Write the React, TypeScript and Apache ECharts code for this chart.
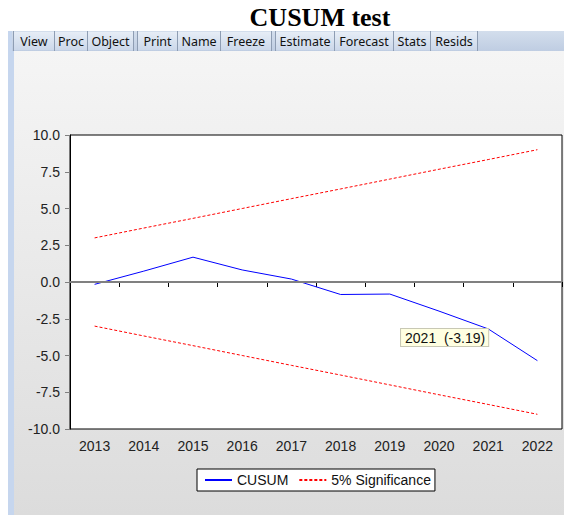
import React, { useEffect, useRef } from "react";
import * as echarts from "echarts";

const categories = ["2013", "2014", "2015", "2016", "2017", "2018", "2019", "2020", "2021", "2022"];
const cusum = [-0.16, 0.74, 1.69, 0.82, 0.2, -0.85, -0.82, -1.98, -3.19, -5.35];
const upperBound = [3.0, 3.67, 4.33, 5.0, 5.67, 6.33, 7.0, 7.67, 8.33, 9.0];
const lowerBound = [-3.0, -3.67, -4.33, -5.0, -5.67, -6.33, -7.0, -7.67, -8.33, -9.0];
const yMin = -10;
const yMax = 10;
const yInterval = 2.5;
const annotationIndex = 8;
const toolbarButtons = ["View", "Proc", "Object", "Print", "Name", "Freeze", "Estimate", "Forecast", "Stats", "Resids"];
const titleText = "CUSUM test";

// layout of the toolbar buttons (pixel extents)
const buttonExtents: [number, number][] = [
  [13, 54], [54, 87], [87, 133],
  [137, 177], [177, 220], [220, 271],
  [275, 334], [334, 393], [393, 430], [430, 477],
];

export default function App() {
  const ref = useRef<HTMLDivElement>(null);
  useEffect(() => {
    if (!ref.current) return;
    const chart = echarts.init(ref.current, undefined, { renderer: "svg" });
    const sans = "'Liberation Sans', Arial, sans-serif";
    const graphics: any[] = [
      { type: "rect", z: -10, silent: true, shape: { x: 0, y: 0, width: 564, height: 515 }, style: { fill: "#ffffff" } },
      {
        type: "rect", z: -9, silent: true, shape: { x: 14, y: 51, width: 550, height: 464 },
        style: { fill: new echarts.graphic.LinearGradient(0, 0, 0, 1, [{ offset: 0, color: "#f5f5f5" }, { offset: 1, color: "#dcdcdc" }]) },
      },
      { type: "rect", z: -9, silent: true, shape: { x: 8, y: 31, width: 6, height: 484 }, style: { fill: "#c6d6ee" } },
      {
        type: "rect", z: -8, silent: true, shape: { x: 12, y: 31, width: 552, height: 20 },
        style: { fill: new echarts.graphic.LinearGradient(0, 0, 0, 1, [{ offset: 0, color: "#d3deec" }, { offset: 1, color: "#bfcde2" }]) },
      },
    ];
    toolbarButtons.forEach((label, i) => {
      const [x0, x1] = buttonExtents[i];
      graphics.push({
        type: "rect", z: -7, silent: true, shape: { x: x0 + 1, y: 32, width: x1 - x0 - 1, height: 18 },
        style: { fill: new echarts.graphic.LinearGradient(0, 0, 0, 1, [{ offset: 0, color: "#e6edf6" }, { offset: 1, color: "#ccd8ea" }]) },
      });
      graphics.push({ type: "line", z: -6, silent: true, shape: { x1: x0 + 0.5, y1: 31, x2: x0 + 0.5, y2: 51 }, style: { stroke: "#8e9db3", lineWidth: 1 } });
      graphics.push({ type: "line", z: -6, silent: true, shape: { x1: x1 + 0.5, y1: 31, x2: x1 + 0.5, y2: 51 }, style: { stroke: "#8e9db3", lineWidth: 1 } });
      graphics.push({
        type: "text", z: -5, silent: true, x: (x0 + x1) / 2 + 0.5, y: 41,
        style: { text: label, fill: "#111", font: "12.5px 'Noto Sans', sans-serif", align: "center", verticalAlign: "middle" },
      });
    });
    graphics.push({
      type: "text", silent: true, x: 320, y: 17,
      style: { text: titleText, fill: "#000", font: "bold 26px 'Liberation Serif', 'Times New Roman', serif", align: "center", verticalAlign: "middle" },
    });

    chart.setOption({
      animation: false,
      backgroundColor: "transparent",
      graphic: graphics,
      grid: {
        left: 70, top: 135, right: 2, bottom: 86,
        show: true, backgroundColor: "#ffffff", borderColor: "#000000", borderWidth: 1,
      },
      legend: {
        data: ["CUSUM", "5% Significance"],
        left: 197, top: 469,
        padding: [4, 4, 4, 7],
        itemGap: 10, itemWidth: 27, itemHeight: 14,
        itemStyle: { opacity: 0 },
        backgroundColor: "#ffffff", borderColor: "#000000", borderWidth: 1, borderRadius: 0,
        textStyle: { fontFamily: sans, fontSize: 14, color: "#111" },
      },
      xAxis: {
        type: "category",
        data: categories,
        boundaryGap: true,
        axisLine: { show: true, lineStyle: { color: "#000", width: 1 } },
        axisTick: { show: true, length: 5, lineStyle: { color: "#000" } },
        axisLabel: { fontFamily: sans, fontSize: 14, color: "#222", margin: 10 },
        splitLine: { show: false },
      },
      yAxis: {
        type: "value",
        min: yMin, max: yMax, interval: yInterval,
        axisLine: { show: true, lineStyle: { color: "#000", width: 1 } },
        axisTick: { show: true, length: 5, lineStyle: { color: "#808080" } },
        axisLabel: { fontFamily: sans, fontSize: 14, color: "#222", margin: 10, formatter: (v: number) => v.toFixed(1) },
        splitLine: { show: false },
      },
      series: [
        {
          name: "5% Significance", type: "line", data: upperBound, symbol: "none", z: 2,
          lineStyle: { color: "#ff0000", width: 1, type: [3, 2] }, itemStyle: { color: "#ff0000" },
          markPoint: {
            silent: true,
            data: [{
              coord: [categories[annotationIndex], cusum[annotationIndex]],
              symbol: "circle", symbolSize: 1, itemStyle: { color: "rgba(0,0,0,0)" },
              label: {
                show: true,
                formatter: `${categories[annotationIndex]} \u00a0(${cusum[annotationIndex].toFixed(2)})`,
                position: [0.5, 0.5], align: "right", verticalAlign: "top",
                fontFamily: sans, fontSize: 14, color: "#111",
                backgroundColor: "#ffffe1", borderColor: "#c8c8b4", borderWidth: 1,
                padding: [2, 3, 1, 4],
              },
            }],
          },
        },
        {
          name: "5% Significance", type: "line", data: lowerBound, symbol: "none", z: 2,
          lineStyle: { color: "#ff0000", width: 1, type: [3, 2] }, itemStyle: { color: "#ff0000" },
        },
        {
          name: "CUSUM", type: "line", data: cusum, symbol: "none", z: 3,
          lineStyle: { color: "#0000ff", width: 1 }, itemStyle: { color: "#0000ff" },
          markLine: {
            silent: true, symbol: "none", label: { show: false },
            lineStyle: { color: "#808080", width: 2, type: "solid" },
            data: [{ yAxis: 0 }],
          },
          markPoint: {
            silent: true,
            data: [{
              coord: [categories[annotationIndex], cusum[annotationIndex]],
              symbol: "path://M0,0 L10,0 L10,10 Z", symbolSize: 7, symbolOffset: [-3.5, 3.5],
              itemStyle: { color: "#b00000" }, label: { show: false },
            }],
          },
        },
      ],
    });
    return () => chart.dispose();
  }, []);
  return <div ref={ref} style={{ position: "absolute", left: 0, top: 0, width: 564, height: 515 }} />;
}
